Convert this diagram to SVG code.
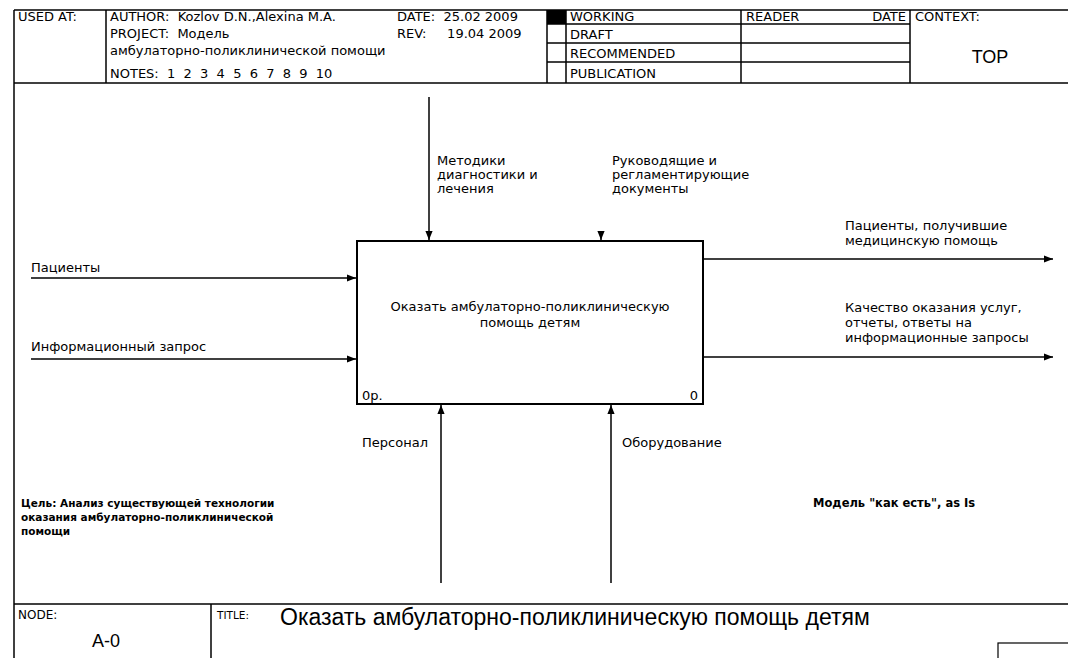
<svg xmlns="http://www.w3.org/2000/svg" width="1068" height="658" viewBox="0 0 1068 658">
<style>
.frame{stroke:#000;stroke-width:1.5;fill:none}
.t{font-family:"DejaVu Sans",Verdana,sans-serif;font-size:13px;fill:#000}
.h{font-family:"DejaVu Sans",Verdana,sans-serif;font-size:13px;fill:#000}
.b{font-family:"DejaVu Sans",Verdana,sans-serif;font-size:10.5px;font-weight:bold;fill:#000}
.big{font-family:"Liberation Sans",Arial,sans-serif;fill:#000}
.arr{stroke:#000;stroke-width:1.5;fill:none;marker-end:url(#ah)}
.box{stroke:#000;stroke-width:2;fill:#fff}
</style>
<defs>
<marker id="ah" viewBox="0 0 10 10" refX="10" refY="5" markerWidth="9" markerHeight="9" markerUnits="userSpaceOnUse" orient="auto">
<path d="M0,1 L10,5 L0,9 Z" fill="#000"/>
</marker>
</defs>
<rect width="1068" height="658" fill="#fff"/>

<g id="header">
<line class="frame" x1="14" y1="10" x2="1068" y2="10"/>
<line class="frame" x1="14" y1="83" x2="1068" y2="83"/>
<line class="frame" x1="14" y1="10" x2="14" y2="658"/>
<line class="frame" x1="106" y1="10" x2="106" y2="83"/>
<line class="frame" x1="547" y1="10" x2="547" y2="83"/>
<line class="frame" x1="566" y1="10" x2="566" y2="83"/>
<line class="frame" x1="741" y1="10" x2="741" y2="83"/>
<line class="frame" x1="910" y1="10" x2="910" y2="83"/>
<line class="frame" x1="547" y1="24" x2="910" y2="24"/>
<line class="frame" x1="547" y1="43" x2="910" y2="43"/>
<line class="frame" x1="547" y1="62" x2="910" y2="62"/>
<rect x="547" y="10" width="19" height="14" fill="#000"/>
<text class="h" x="18" y="21">USED AT:</text>
<text class="h" x="110" y="21" xml:space="preserve">AUTHOR:  Kozlov D.N.,Alexina M.A.</text>
<text class="h" x="110" y="38" xml:space="preserve">PROJECT:  Модель</text>
<text class="h" x="110" y="55">амбулаторно-поликлинической помощи</text>
<text class="h" x="110" y="78" xml:space="preserve">NOTES:  1  2  3  4  5  6  7  8  9  10</text>
<text class="h" x="397" y="21" xml:space="preserve">DATE:  25.02 2009</text>
<text class="h" x="397" y="38" xml:space="preserve">REV:     19.04 2009</text>
<text class="h" x="570" y="21">WORKING</text>
<text class="h" x="570" y="39">DRAFT</text>
<text class="h" x="570" y="58">RECOMMENDED</text>
<text class="h" x="570" y="78">PUBLICATION</text>
<text class="h" x="746" y="21">READER</text>
<text class="h" x="906" y="21" text-anchor="end">DATE</text>
<text class="h" x="915" y="21">CONTEXT:</text>
<text class="big" x="990" y="63" style="font-size:18px" text-anchor="middle">TOP</text>
</g>

<g id="connectors">
<line class="arr" x1="429" y1="97" x2="429" y2="240"/>
<line class="arr" x1="601" y1="231" x2="601" y2="240"/>
<line class="arr" x1="31" y1="278" x2="356" y2="278"/>
<line class="arr" x1="31" y1="359" x2="356" y2="359"/>
<line class="arr" x1="704" y1="259" x2="1053" y2="259"/>
<line class="arr" x1="704" y1="357" x2="1053" y2="357"/>
<line class="arr" x1="441" y1="583" x2="441" y2="405"/>
<line class="arr" x1="611" y1="583" x2="611" y2="405"/>
</g>

<g id="labels">
<text class="t" x="437" y="165">Методики</text>
<text class="t" x="437" y="179">диагностики и</text>
<text class="t" x="437" y="193">лечения</text>
<text class="t" x="612" y="165">Руководящие и</text>
<text class="t" x="612" y="179">регламентирующие</text>
<text class="t" x="612" y="193">документы</text>
<text class="t" x="31" y="272">Пациенты</text>
<text class="t" x="31" y="351">Информационный запрос</text>
<text class="t" x="845" y="230">Пациенты, получившие</text>
<text class="t" x="845" y="245">медицинскую помощь</text>
<text class="t" x="845" y="312">Качество оказания услуг,</text>
<text class="t" x="845" y="327">отчеты, ответы на</text>
<text class="t" x="845" y="342">информационные запросы</text>
<text class="t" x="428" y="447" text-anchor="end">Персонал</text>
<text class="t" x="622" y="447">Оборудование</text>
</g>

<g id="node-A0">
<rect class="box" x="357" y="241" width="346" height="163"/>
<text class="t" x="530" y="311" text-anchor="middle">Оказать амбулаторно-поликлиническую</text>
<text class="t" x="530" y="327" text-anchor="middle">помощь детям</text>
<text class="t" x="362" y="400">0р.</text>
<text class="t" x="698" y="400" text-anchor="end">0</text>
</g>

<g id="notes">
<text class="b" x="21" y="507">Цель: Анализ существующей технологии</text>
<text class="b" x="21" y="521">оказания амбулаторно-поликлинической</text>
<text class="b" x="21" y="535">помощи</text>
<text class="b" x="813" y="507" style="font-size:11.5px">Модель "как есть", as Is</text>
</g>

<g id="footer">
<line class="frame" x1="14" y1="604" x2="1068" y2="604"/>
<line class="frame" x1="211" y1="604" x2="211" y2="658"/>
<rect x="998" y="643" width="80" height="20" fill="none" stroke="#000" stroke-width="1.2"/>
<text class="h" x="18" y="619" style="font-size:12px">NODE:</text>
<text class="big" x="106" y="647" style="font-size:18px" text-anchor="middle">A-0</text>
<text class="h" x="217" y="619" style="font-size:10.5px">TITLE:</text>
<text class="big" x="280" y="625" style="font-size:23px">Оказать амбулаторно-поликлиническую помощь детям</text>
</g>
</svg>
